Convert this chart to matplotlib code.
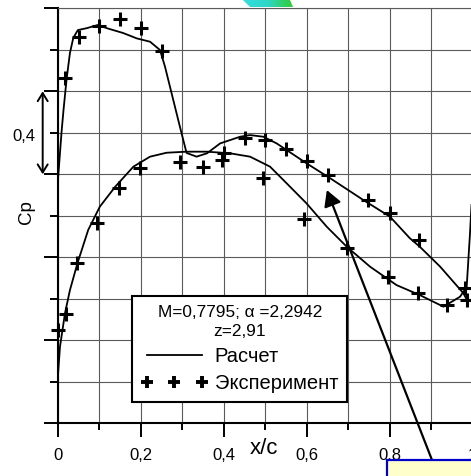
## Cp distribution on airfoil: calculation vs experiment

import numpy as np
import matplotlib
matplotlib.use('Agg')
import matplotlib.pyplot as plt
from matplotlib.lines import Line2D
from matplotlib.patches import Rectangle, Polygon
from matplotlib.ticker import MultipleLocator, FuncFormatter
from matplotlib.colors import LinearSegmentedColormap

plt.rcParams['font.family'] = ['Liberation Sans', 'DejaVu Sans']

# calculated Cp, upper surface
calc_up_x = [0.000, 0.001, 0.010, 0.0145, 0.0217, 0.030, 0.038, 0.049, 0.070, 0.098,
             0.119, 0.158, 0.191, 0.223, 0.247, 0.259, 0.275, 0.295, 0.311, 0.335,
             0.360, 0.392, 0.440, 0.464, 0.496, 0.528, 0.600, 0.657, 0.737, 0.801,
             0.849, 0.873, 0.922, 0.978, 0.984]
calc_up_cp = [0.60, -0.37, -0.61, -0.71, -0.855, -0.985, -1.057, -1.095, -1.104, -1.12,
              -1.104, -1.081, -1.055, -1.039, -0.999, -0.919, -0.79, -0.629, -0.503, -0.485,
              -0.501, -0.549, -0.581, -0.589, -0.581, -0.549, -0.453, -0.381, -0.276, -0.196,
              -0.092, -0.051, 0.045, 0.173, 0.196]

# calculated Cp, lower surface
calc_lo_x = [0.000, 0.006, 0.018, 0.030, 0.048, 0.074, 0.102, 0.139, 0.183, 0.223,
             0.263, 0.311, 0.360, 0.416, 0.464, 0.512, 0.544, 0.600, 0.649, 0.697,
             0.753, 0.817, 0.873, 0.930, 0.970, 0.986, 0.994, 0.9976]
calc_lo_cp = [0.60, 0.431, 0.27, 0.158, 0.029, -0.132, -0.244, -0.34, -0.437, -0.485,
              -0.504, -0.509, -0.509, -0.501, -0.485, -0.437, -0.373, -0.26, -0.147, -0.051,
              0.045, 0.134, 0.182, 0.238, 0.19, 0.142, -0.116, -0.252]

# experiment
exp_up_x = [0.018, 0.053, 0.101, 0.151, 0.200, 0.251, 0.295, 0.350, 0.401, 0.452,
            0.500, 0.551, 0.602, 0.653, 0.749, 0.801, 0.870, 0.982]
exp_up_cp = [-0.866, -1.06, -1.115, -1.147, -1.104, -0.996, -0.461, -0.437, -0.501, -0.573,
             -0.565, -0.52, -0.466, -0.397, -0.276, -0.212, -0.083, 0.149]
exp_lo_x = [0.000, 0.020, 0.048, 0.096, 0.147, 0.199, 0.396, 0.494, 0.594, 0.697,
            0.797, 0.869, 0.938, 0.986]
exp_lo_cp = [0.35, 0.273, 0.029, -0.167, -0.333, -0.429, -0.469, -0.381, -0.183, -0.043,
             0.096, 0.173, 0.23, 0.206]

W, H = 471, 476
def fx(px):
    return px / W
def fy(py):
    return 1 - py / H

fig = plt.figure(figsize=(W / 100, H / 100), dpi=100)
ax = fig.add_axes([fx(57.5), fy(423.3), 415 / W, 415 / H])

ax.set_xlim(0, 1)
ax.set_ylim(0.8, -1.2)
ax.xaxis.set_major_locator(MultipleLocator(0.2))
ax.xaxis.set_minor_locator(MultipleLocator(0.1))
ax.yaxis.set_major_locator(MultipleLocator(0.4))
ax.yaxis.set_minor_locator(MultipleLocator(0.2))
ax.xaxis.set_major_formatter(FuncFormatter(
    lambda v, p: '0' if abs(v) < 1e-9 else ('1' if abs(v - 1) < 1e-9 else f'{v:.1f}'.replace('.', ','))))

ax.grid(which='both', color='#5a5a5a', lw=0.8)
ax.set_axisbelow(True)
ax.tick_params(axis='y', which='both', labelleft=False, direction='out', width=1.4)
ax.tick_params(axis='y', which='major', length=10)
ax.tick_params(axis='y', which='minor', length=5.8)
ax.tick_params(axis='x', which='both', direction='out', width=1.4)
ax.tick_params(axis='x', which='major', length=10, pad=8, labelsize=12)
ax.tick_params(axis='x', which='minor', length=5)

for s in ['left', 'bottom']:
    ax.spines[s].set_linewidth(1.5)
ax.spines['top'].set_color('#5a5a5a')
ax.spines['top'].set_linewidth(0.8)
ax.spines['right'].set_visible(False)

ax.plot(calc_up_x, calc_up_cp, color='k', lw=1.3)
ax.plot(calc_lo_x, calc_lo_cp, color='k', lw=1.3)
ax.plot(exp_up_x, exp_up_cp, ls='none', marker='+', ms=10, mew=2.2, color='k', clip_on=False)
ax.plot(exp_lo_x, exp_lo_cp, ls='none', marker='+', ms=10, mew=2.2, color='k', clip_on=False)

handles = [Line2D([], [], color='k', lw=1.3),
           Line2D([], [], ls='none', marker='+', ms=8, mew=2.8, color='k')]
leg = ax.legend(handles, ['Расчет', 'Эксперимент'],
                title='M=0,7795; α =2,2942\nz=2,91',
                loc='lower left', bbox_to_anchor=(0.180, 0.052), borderaxespad=0,
                fontsize=14.5, title_fontsize=12.4, numpoints=3, handlelength=3.3,
                handletextpad=0.35, borderpad=0.45, labelspacing=0.4,
                alignment='center', fancybox=False, edgecolor='k', framealpha=1)
leg.get_frame().set_linewidth(1.5)
leg.get_title().set_multialignment('center')
leg.get_title().set_linespacing(1.3)

# scale arrow "0,4"
ax.annotate('', xy=(-0.0357, -0.8), xytext=(-0.0357, -0.4),
            arrowprops=dict(arrowstyle='<->,head_length=0.58,head_width=0.36',
                            lw=1.4, color='k', shrinkA=0, shrinkB=0),
            annotation_clip=False)
fig.text(fx(23.5), fy(136.5), '0,4', fontsize=12, ha='center', va='center')
fig.text(fx(26), fy(212), 'Cp', fontsize=13.5, rotation=90, ha='center', va='center')
fig.text(fx(264), fy(448), 'x/c', fontsize=16, ha='center', va='center')

# pointer arrow from callout box
ax.annotate('', xy=(0.649, -0.324), xytext=(0.9024, 0.977),
            arrowprops=dict(arrowstyle='-|>,head_length=0.5,head_width=0.28', color='k',
                            lw=1.6, mutation_scale=19, shrinkA=0, shrinkB=0),
            annotation_clip=False)

box = Rectangle((fx(386.7), -0.05), 1, fy(460) + 0.05, transform=fig.transFigure,
                fc='#FFFFCC', ec='#0000CC', lw=1.6, zorder=5)
fig.add_artist(box)

# coloured fragment at the top edge
bax = fig.add_axes([fx(243), fy(7), 50 / W, 7 / H])
bax.axis('off')
cmap = LinearSegmentedColormap.from_list('cg', ['#33dede', '#2ed6c6', '#33cc33'])
im = bax.imshow(np.linspace(0, 1, 100).reshape(1, -1), cmap=cmap, aspect='auto',
                extent=[0, 1, 0, 1])
bax.set_xlim(0, 1)
bax.set_ylim(0, 1)
im.set_clip_path(Polygon([(0, 1), (0.94, 1), (1, 0), (0.14, 0)], transform=bax.transAxes))

fig.savefig('out.png', dpi=100)
print('Saved: out.png')
